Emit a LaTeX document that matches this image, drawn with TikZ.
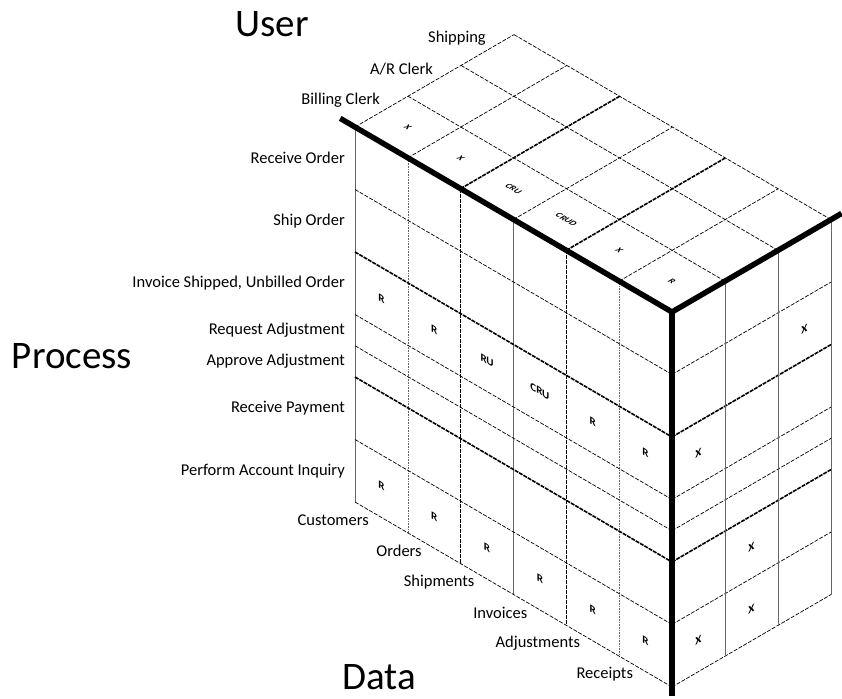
\documentclass[tikz,border=0pt]{standalone}
\usepackage{fontspec}
\setmainfont{Carlito}
\usetikzlibrary{positioning}
\tikzstyle{axisline} = [line width=5.5pt, black]
\tikzstyle{cellline} = [line width=0.7pt, dash pattern=on 4pt off 1.5pt]
\tikzstyle{groupline} = [line width=1.6pt, dash pattern=on 4pt off 1pt]
\tikzstyle{edgeline} = [line width=0.7pt, black!60]
\tikzstyle{dotline} = [line width=0.6pt, black!60, densely dotted]
\tikzstyle{axislabel} = [font=\fontsize{39}{39}\selectfont]
\tikzstyle{lbl} = [font=\fontsize{16.5}{16.5}\selectfont, inner sep=0pt]
\tikzstyle{proclabel} = [lbl, anchor=east, xshift=-10pt]
\tikzstyle{datalabel} = [lbl, anchor=east, xshift=14pt, yshift=-18pt]
\tikzstyle{userlabel} = [lbl, anchor=east, xshift=-28pt, yshift=-3.5pt]
\tikzstyle{cellmark} = [inner sep=0pt, font=\fontsize{11}{11}\selectfont\bfseries]
\tikzstyle{frontmark} = [cellmark, cm={1,-0.577,0,1,(0,0)}]
\tikzstyle{sidemark} = [cellmark, cm={1,0.577,0,1,(0,0)}]
\tikzstyle{topmark} = [cellmark, font=\fontsize{9}{9}\selectfont\bfseries, cm={0.866,-0.5,0.866,0.5,(0,0)}]

\begin{document}
\begin{tikzpicture}[x=1pt, y=-1pt]
    \useasboundingbox (0,0) rectangle (842,698);
    \node (user) [axislabel] at (272,24) {User};
    \node (process) [axislabel] at (72,356) {Process};
    \node (data) [axislabel] at (379,677) {Data};

    \begin{scope}[shift={(355,127)}, x={(52.83pt,-30.83pt)}, y={(0pt,-31.25pt)}, z={(53pt,30.8pt)}]
        % front face: data x process
        \draw [edgeline] (0,0,0) -- (0,12,0);
        \foreach \c/\s in {1/dotline, 2/groupline, 3/edgeline, 4/groupline, 5/dotline}
            \draw [\s] (\c,0,0) -- (\c,12,0);
        \foreach \r/\s in {2/cellline, 4/groupline, 6/cellline, 7/cellline, 8/groupline, 10/cellline, 12/cellline} {
            \draw [\s] (0,\r,0) -- (6,\r,0);
            \draw [\s] (6,\r,0) -- (6,\r,3);
        }
        % right face: process x user
        \foreach \u in {1,2,3}
            \draw [edgeline] (6,0,\u) -- (6,12,\u);
        % top face: data x user
        \foreach \c/\s in {0/cellline, 1/cellline, 2/groupline, 3/cellline, 4/groupline, 5/cellline}
            \draw [\s] (\c,0,0) -- (\c,0,3);
        \foreach \u in {1,2,3}
            \draw [cellline] (0,0,\u) -- (6,0,\u);

        \draw [axisline] (-0.28,0,0) -- (6,0,0) -- (6,0,3.2);
        \draw [axisline] (6,0,0) -- (6,12.3,0);

        \foreach \r/\t [count=\i] in {1/Receive Order, 3/Ship Order, 5/{Invoice Shipped, Unbilled Order}, 6.5/Request Adjustment, 7.5/Approve Adjustment, 9/Receive Payment, 11/Perform Account Inquiry}
            \node (proc\i) [proclabel] at (0,\r,0) {\t};
        \foreach \c/\t in {0/Customers, 1/Orders, 2/Shipments, 3/Invoices, 4/Adjustments, 5/Receipts}
            \node (data\c) [datalabel] at (\c,12,0) {\t};
        \node (user1) [userlabel] at (0,0,1) {Billing Clerk};
        \node (user2) [userlabel] at (0,0,2) {A/R Clerk};
        \node (user3) [userlabel] at (0,0,3) {Shipping};

        \foreach \c/\t in {0/R, 1/R, 2/RU, 3/CRU, 4/R, 5/R}
            \node (inv\c) [frontmark] at (\c+0.5,5,0) {\t};
        \foreach \c in {0,...,5}
            \node (inq\c) [frontmark] at (\c+0.5,11,0) {R};
        \foreach \c/\t in {0/X, 1/X, 2/CRU, 3/CRUD, 4/X, 5/R}
            \node (bill\c) [topmark] at (\c+0.5,0,0.5) {\t};
        \node (ship2) [sidemark] at (6,3,2.5) {X};
        \node (inv6) [sidemark] at (6,5,0.5) {X};
        \node (pay7) [sidemark] at (6,9,1.5) {X};
        \node (inq7) [sidemark] at (6,11,1.5) {X};
        \node (inq6) [sidemark] at (6,11,0.5) {X};
    \end{scope}
\end{tikzpicture}
\end{document}
